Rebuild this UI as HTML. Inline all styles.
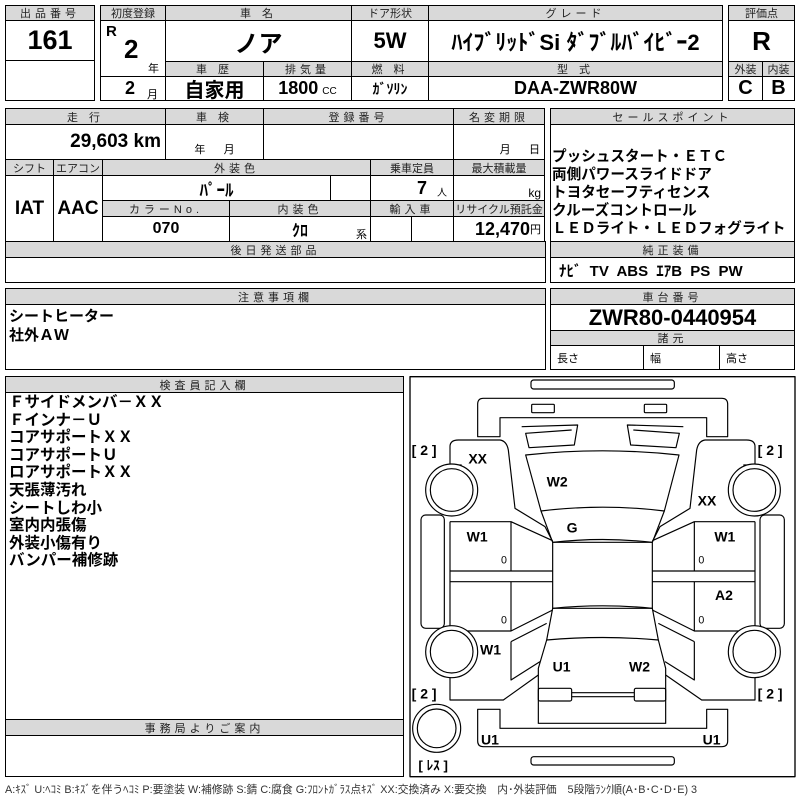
<!DOCTYPE html>
<html><head><meta charset="utf-8"><style>
body{margin:0;width:800px;height:800px;background:#fff;position:relative;overflow:hidden;font-family:"Liberation Sans","Noto Sans CJK JP",sans-serif;color:#000}
.c{position:absolute;border:1px solid #000;box-sizing:border-box;display:flex;align-items:center;justify-content:center;white-space:nowrap;overflow:hidden}
.h{background:#d9d9d9;font-size:11px;letter-spacing:4px;color:#222}
.n{font-family:"Liberation Sans Narrow","Liberation Sans","Noto Sans CJK JP",sans-serif;font-weight:bold}
.t{position:absolute;white-space:nowrap}
</style></head><body>
<!-- box1 -->
<div class="c h" style="left:5px;top:5px;width:90px;height:16px">出品番号</div>
<div class="c n" style="left:5px;top:20px;width:90px;height:41px;font-size:27px">161</div>
<div class="c" style="left:5px;top:60px;width:90px;height:41px"></div>
<!-- box2 -->
<div class="c h" style="left:100px;top:5px;width:66px;height:16px;letter-spacing:0">初度登録</div>
<div class="c h" style="left:165px;top:5px;width:187px;height:16px">車 名</div>
<div class="c h" style="left:351px;top:5px;width:78px;height:16px;letter-spacing:0">ドア形状</div>
<div class="c h" style="left:428px;top:5px;width:295px;height:16px">グレード</div>
<div class="c" style="left:100px;top:20px;width:66px;height:57px"></div>
<div class="t n" style="left:106px;top:23px;font-size:15px">R</div>
<div class="t n" style="left:124px;top:34px;font-size:26px">2</div>
<div class="t" style="left:148px;top:60px;font-size:11px">年</div>
<div class="c" style="left:100px;top:76px;width:66px;height:25px"></div>
<div class="t n" style="left:125px;top:78px;font-size:18px">2</div>
<div class="t" style="left:147px;top:86px;font-size:11px">月</div>
<div class="c n" style="left:165px;top:20px;width:187px;height:42px;font-size:24px">ノア</div>
<div class="c n" style="left:351px;top:20px;width:78px;height:42px;font-size:22px">5W</div>
<div class="c n" style="left:428px;top:20px;width:295px;height:42px;font-size:22px">ﾊｲﾌﾞﾘｯﾄﾞSi ﾀﾞﾌﾞﾙﾊﾞｲﾋﾞｰ2</div>
<div class="c h" style="left:165px;top:61px;width:99px;height:16px">車 歴</div>
<div class="c h" style="left:263px;top:61px;width:89px;height:16px">排気量</div>
<div class="c h" style="left:351px;top:61px;width:78px;height:16px">燃 料</div>
<div class="c h" style="left:428px;top:61px;width:295px;height:16px">型 式</div>
<div class="c n" style="left:165px;top:76px;width:99px;height:25px;font-size:20px">自家用</div>
<div class="c n" style="left:263px;top:76px;width:89px;height:25px;font-size:18px">1800<span style="font-size:10px;font-weight:normal;margin-left:4px;margin-top:6px">CC</span></div>
<div class="c n" style="left:351px;top:76px;width:78px;height:25px;font-size:14px">ｶﾞｿﾘﾝ</div>
<div class="c n" style="left:428px;top:76px;width:295px;height:25px;font-size:18px">DAA-ZWR80W</div>
<!-- box3 -->
<div class="c h" style="left:728px;top:5px;width:67px;height:16px;letter-spacing:0">評価点</div>
<div class="c n" style="left:728px;top:20px;width:67px;height:42px;font-size:26px">R</div>
<div class="c h" style="left:728px;top:61px;width:35px;height:16px;letter-spacing:0">外装</div>
<div class="c h" style="left:762px;top:61px;width:33px;height:16px;letter-spacing:0">内装</div>
<div class="c n" style="left:728px;top:76px;width:35px;height:25px;font-size:20px">C</div>
<div class="c n" style="left:762px;top:76px;width:33px;height:25px;font-size:20px">B</div>
<!-- block2 -->
<div class="c h" style="left:5px;top:108px;width:161px;height:17px">走 行</div>
<div class="c h" style="left:165px;top:108px;width:99px;height:17px">車 検</div>
<div class="c h" style="left:263px;top:108px;width:191px;height:17px">登録番号</div>
<div class="c h" style="left:453px;top:108px;width:92px;height:17px">名変期限</div>
<div class="c n" style="left:5px;top:124px;width:161px;height:36px;font-size:19px;justify-content:flex-end;padding-right:4px">29,603 km</div>
<div class="c" style="left:165px;top:124px;width:99px;height:36px;font-size:11px;align-items:flex-end;padding-bottom:2px">年&nbsp;&nbsp;&nbsp;&nbsp;&nbsp;&nbsp;月</div>
<div class="c" style="left:263px;top:124px;width:191px;height:36px"></div>
<div class="c" style="left:453px;top:124px;width:92px;height:36px;font-size:11px;align-items:flex-end;justify-content:flex-end;padding:0 4px 2px 0">月&nbsp;&nbsp;&nbsp;&nbsp;&nbsp;&nbsp;日</div>
<div class="c h" style="left:5px;top:159px;width:49px;height:17px;letter-spacing:0">シフト</div>
<div class="c h" style="left:53px;top:159px;width:50px;height:17px;letter-spacing:0">エアコン</div>
<div class="c h" style="left:102px;top:159px;width:269px;height:17px">外装色</div>
<div class="c h" style="left:370px;top:159px;width:84px;height:17px;letter-spacing:0">乗車定員</div>
<div class="c h" style="left:453px;top:159px;width:92px;height:17px;letter-spacing:0">最大積載量</div>
<div class="c n" style="left:5px;top:175px;width:49px;height:67px;font-size:19px">IAT</div>
<div class="c n" style="left:53px;top:175px;width:50px;height:67px;font-size:19px">AAC</div>
<div class="c n" style="left:102px;top:175px;width:229px;height:26px;font-size:17px">ﾊﾟｰﾙ</div>
<div class="c" style="left:330px;top:175px;width:41px;height:26px"></div>
<div class="c n" style="left:370px;top:175px;width:84px;height:26px;font-size:18px;justify-content:flex-end;padding-right:6px">7<span style="font-size:10px;font-weight:normal;margin-left:10px;margin-top:6px">人</span></div>
<div class="c" style="left:453px;top:175px;width:92px;height:26px;font-size:12px;justify-content:flex-end;padding-right:3px;align-items:flex-end">kg</div>
<div class="c h" style="left:102px;top:200px;width:128px;height:17px">カラーNo.</div>
<div class="c h" style="left:229px;top:200px;width:142px;height:17px">内装色</div>
<div class="c h" style="left:370px;top:200px;width:84px;height:17px">輸入車</div>
<div class="c h" style="left:453px;top:200px;width:92px;height:17px;letter-spacing:0">リサイクル預託金</div>
<div class="c n" style="left:102px;top:216px;width:128px;height:26px;font-size:16px">070</div>
<div class="c n" style="left:229px;top:216px;width:142px;height:26px;font-size:16px">ｸﾛ</div>
<div class="t" style="left:356px;top:226px;font-size:11px">系</div>
<div class="c" style="left:370px;top:216px;width:42px;height:26px"></div>
<div class="c" style="left:411px;top:216px;width:43px;height:26px"></div>
<div class="c n" style="left:453px;top:216px;width:92px;height:26px;font-size:18px;justify-content:flex-end;padding-right:3px">12,470<span style="font-size:11px;font-weight:normal">円</span></div>
<div class="c h" style="left:5px;top:241px;width:541px;height:17px">後日発送部品</div>
<div class="c" style="left:5px;top:257px;width:541px;height:26px"></div>
<!-- sales -->
<div class="c h" style="left:550px;top:108px;width:245px;height:17px">セールスポイント</div>
<div class="c" style="left:550px;top:124px;width:245px;height:118px"></div>
<div class="t" style="left:552px;top:148px;font-size:14.6px;font-weight:bold;line-height:18px">プッシュスタート・ＥＴＣ<br>両側パワースライドドア<br>トヨタセーフティセンス<br>クルーズコントロール<br>ＬＥＤライト・ＬＥＤフォグライト</div>
<div class="c h" style="left:550px;top:241px;width:245px;height:17px">純正装備</div>
<div class="c n" style="left:550px;top:257px;width:245px;height:26px;font-size:15px;justify-content:flex-start;padding-left:8px;word-spacing:4px">ﾅﾋﾞ TV ABS ｴｱB PS PW</div>
<!-- notes -->
<div class="c h" style="left:5px;top:288px;width:541px;height:17px">注意事項欄</div>
<div class="c" style="left:5px;top:304px;width:541px;height:66px"></div>
<div class="t" style="left:9px;top:307px;font-size:15px;font-weight:bold;line-height:19px">シートヒーター<br>社外ＡＷ</div>
<div class="c h" style="left:550px;top:288px;width:245px;height:17px">車台番号</div>
<div class="c n" style="left:550px;top:304px;width:245px;height:27px;font-size:22px">ZWR80-0440954</div>
<div class="c h" style="left:550px;top:330px;width:245px;height:16px">諸元</div>
<div class="c" style="left:550px;top:345px;width:94px;height:25px;font-size:11px;justify-content:flex-start;padding-left:6px">長さ</div>
<div class="c" style="left:643px;top:345px;width:77px;height:25px;font-size:11px;justify-content:flex-start;padding-left:6px">幅</div>
<div class="c" style="left:719px;top:345px;width:76px;height:25px;font-size:11px;justify-content:flex-start;padding-left:6px">高さ</div>
<!-- inspector -->
<div class="c h" style="left:5px;top:376px;width:399px;height:17px">検査員記入欄</div>
<div class="c" style="left:5px;top:392px;width:399px;height:328px"></div>
<div class="t" style="left:9px;top:394px;font-size:15.5px;font-weight:bold;line-height:17.6px">Ｆサイドメンバ－ＸＸ<br>Ｆインナ－Ｕ<br>コアサポートＸＸ<br>コアサポートＵ<br>ロアサポートＸＸ<br>天張薄汚れ<br>シートしわ小<br>室内内張傷<br>外装小傷有り<br>バンパー補修跡</div>
<div class="c h" style="left:5px;top:719px;width:399px;height:17px">事務局よりご案内</div>
<div class="c" style="left:5px;top:735px;width:399px;height:42px"></div>
<div class="t" style="left:5px;top:781px;font-size:10.8px;color:#333">A:ｷｽﾞ U:ﾍｺﾐ B:ｷｽﾞを伴うﾍｺﾐ P:要塗装 W:補修跡 S:錆 C:腐食 G:ﾌﾛﾝﾄｶﾞﾗｽ点ｷｽﾞ XX:交換済み X:要交換　内･外装評価　5段階ﾗﾝｸ順(A･B･C･D･E) 3</div>
<!-- car -->
<svg style="position:absolute;left:405px;top:375px" width="395" height="425" viewBox="0 0 1185 1275">
<g fill="none" stroke="#000" stroke-width="3.5" stroke-linejoin="round">
<rect x="15" y="5" width="1155" height="1200" stroke-width="4"/>
<rect x="378" y="15" width="430" height="27" rx="8"/>
<rect x="378" y="1145" width="430" height="25" rx="8"/>
<path d="M235,70 H950 Q968,70 968,88 V185 H905 V128 H285 V185 H218 V88 Q218,70 235,70Z"/>
<rect x="380" y="88" width="68" height="25" rx="3"/><rect x="718" y="88" width="67" height="25" rx="3"/>
<path d="M350,155 L518,150 L508,210 L372,218 L362,175 L500,165"/>
<path d="M835,155 L667,150 L677,210 L813,218 L823,175 L685,165"/>
<path d="M362,240 Q593,215 822,240 L778,408 Q593,385 408,408 Z"/>
<path d="M408,408 L443,502 Q593,485 742,502 L778,408"/>
<rect x="443" y="502" width="299" height="198"/>
<path d="M443,700 Q593,685 742,700 L760,795 Q593,780 425,795 Z"/>
<path d="M425,795 L400,880 V1045 H782 V880 L760,795"/>
<rect x="400" y="940" width="100" height="38" rx="5"/><rect x="688" y="940" width="94" height="38" rx="5"/>
<path d="M500,953 H688 M500,965 H688"/>
<path d="M218,1003 H285 V1060 H905 V1003 H968 V1098 Q968,1115 950,1115 H235 Q218,1115 218,1098 Z"/>
<path d="M135,270 V215 Q135,195 160,195 H285 Q305,198 310,225 L330,400 L420,455 L443,500"/>
<path d="M135,440 V770 M135,800 V975 H295 L400,900"/>
<path d="M135,270 H170 M135,800 H170 M135,770 H170"/>
<path d="M135,440 H318 V588 M318,588 V440 L443,497 M135,588 H443 M135,620 H443 M318,620 V768 H135 M318,768 L443,705 M318,620 V768"/>
<path d="M318,800 L425,745 M318,800 V915 L405,860"/>
<rect x="48" y="420" width="70" height="340" rx="14"/>
<path d="M1050,270 V215 Q1050,195 1025,195 H900 Q880,198 875,225 L855,400 L765,455 L742,500"/>
<path d="M1050,440 V770 M1050,800 V975 H890 L782,900"/>
<path d="M1050,270 H1015 M1050,800 H1015 M1050,770 H1015"/>
<path d="M1050,440 H868 V588 M868,440 L742,497 M1050,588 H742 M1050,620 H742 M868,620 V768 H1050 M868,768 L742,705"/>
<path d="M868,800 L760,745 M868,800 V915 L780,860"/>
<rect x="1065" y="420" width="73" height="340" rx="14"/>
<g fill="#fff">
<circle cx="140" cy="345" r="78"/><circle cx="140" cy="830" r="78"/>
<circle cx="1048" cy="345" r="78"/><circle cx="1048" cy="830" r="78"/>
<circle cx="95" cy="1060" r="72"/></g>
<circle cx="140" cy="345" r="64"/><circle cx="140" cy="830" r="64"/>
<circle cx="1048" cy="345" r="64"/><circle cx="1048" cy="830" r="64"/>
<circle cx="95" cy="1060" r="58"/>
</g>
<g font-family="Liberation Sans,sans-serif" font-weight="bold" font-size="42" fill="#000">
<text x="190" y="265">XX</text><text x="425" y="335">W2</text><text x="878" y="392">XX</text>
<text x="485" y="472">G</text><text x="185" y="500">W1</text><text x="928" y="500">W1</text>
<text x="930" y="675">A2</text><text x="225" y="838">W1</text><text x="443" y="890">U1</text>
<text x="672" y="890">W2</text><text x="228" y="1108">U1</text><text x="893" y="1108">U1</text>
<g font-size="42"><text x="20" y="240">[ 2 ]</text><text x="1058" y="240">[ 2 ]</text>
<text x="20" y="970">[ 2 ]</text><text x="1058" y="970">[ 2 ]</text></g>
<text x="40" y="1185" font-family="Liberation Sans,Noto Sans CJK JP,sans-serif" font-size="40">[ ﾚｽ ]</text>
<g font-weight="normal" font-size="32"><text x="288" y="565">0</text><text x="288" y="745">0</text><text x="880" y="565">0</text><text x="880" y="745">0</text></g>
</g>
</svg>
</body></html>
